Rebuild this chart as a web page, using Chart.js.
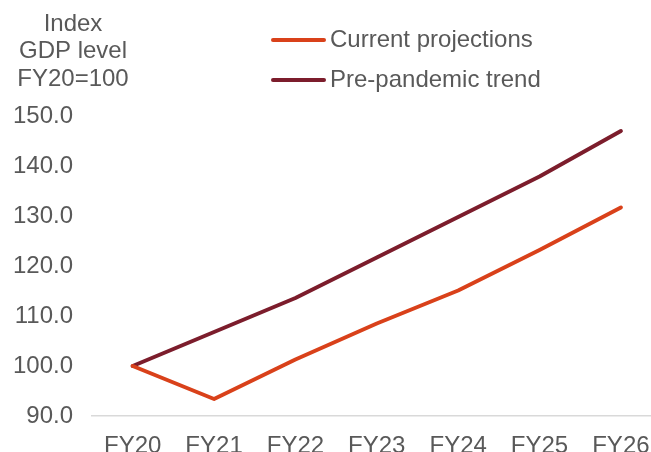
<!DOCTYPE html>
<html>
<head>
<meta charset="utf-8">
<script src="https://cdn.jsdelivr.net/npm/chart.js@4/dist/chart.umd.min.js"></script>
<style>
	html, body { margin: 0; padding: 0; background: #fff; }
	#wrap { width: 651px; height: 452px; position: relative; }
</style>
</head>
<body>
<div id="wrap"><canvas id="chart-0"></canvas></div>
<script>
'use strict';

var YEARS = ['FY20', 'FY21', 'FY22', 'FY23', 'FY24', 'FY25', 'FY26'];
var CURRENT = [100, 93.4, 101.3, 108.5, 115.1, 123.2, 131.7];
var PRE_TREND = [100, 106.8, 113.6, 121.7, 129.8, 137.9, 147.0];
var Y_TICKS = [90, 100, 110, 120, 130, 140, 150];
var TITLE_LINES = ['Index', 'GDP level', 'FY20=100'];

var FONT = '"Liberation Sans", Arial, sans-serif';
var TEXT = '#595959';
var SIZE = 24;

function points(values) {
	return values.map(function(v, i) {
		return {x: i, y: v};
	});
}

// title block and line legend, drawn on the canvas
var annotate = {
	id: 'annotate',
	afterDraw: function(chart) {
		var ctx = chart.ctx;
		ctx.save();
		ctx.font = SIZE + 'px ' + FONT;
		ctx.fillStyle = TEXT;
		ctx.textAlign = 'center';
		ctx.textBaseline = 'middle';
		TITLE_LINES.forEach(function(t, i) {
			ctx.fillText(t, 73, 24 + i * 27.5);
		});

		chart.data.datasets.forEach(function(ds, i) {
			var y = 40 + i * 40;
			ctx.strokeStyle = ds.borderColor;
			ctx.lineWidth = 4;
			ctx.lineCap = 'round';
			ctx.beginPath();
			ctx.moveTo(273, y);
			ctx.lineTo(324, y);
			ctx.stroke();
			ctx.textAlign = 'left';
			ctx.fillStyle = TEXT;
			ctx.fillText(ds.label, 330, y);
		});
		ctx.restore();
	}
};

window.addEventListener('load', function() {
	new Chart('chart-0', {
		type: 'line',
		data: {
			datasets: [{
				label: 'Current projections',
				data: points(CURRENT),
				borderColor: '#d9411a',
				borderWidth: 4,
				borderCapStyle: 'round',
				borderJoinStyle: 'round',
				pointRadius: 0,
				tension: 0
			}, {
				label: 'Pre-pandemic trend',
				data: points(PRE_TREND),
				borderColor: '#7c1d2c',
				borderWidth: 4,
				borderCapStyle: 'round',
				borderJoinStyle: 'round',
				pointRadius: 0,
				tension: 0
			}]
		},
		options: {
			responsive: true,
			maintainAspectRatio: false,
			animation: false,
			layout: {
				padding: {top: 116, right: 0, bottom: 0, left: 0}
			},
			plugins: {
				legend: {display: false},
				tooltip: {enabled: false}
			},
			scales: {
				x: {
					type: 'linear',
					min: -0.5,
					max: 6.37,
					afterBuildTicks: function(scale) {
						scale.ticks = YEARS.map(function(l, i) {
							return {value: i};
						});
					},
					afterFit: function(scale) {
						scale.height = 36;
						// let the axis run to the right edge
						scale.paddingLeft = 0;
						scale.paddingRight = 0;
					},
					grid: {display: false, drawTicks: false},
					border: {display: true, color: '#d9d9d9', width: 1.5},
					ticks: {
						padding: 16,
						color: TEXT,
						font: {family: FONT, size: SIZE},
						maxRotation: 0,
						autoSkip: false,
						callback: function(value) {
							return YEARS[value];
						}
					}
				},
				y: {
					min: 90,
					max: 150,
					afterBuildTicks: function(scale) {
						scale.ticks = Y_TICKS.map(function(v) {
							return {value: v};
						});
					},
					afterFit: function(scale) {
						scale.width = 92;
						scale.paddingTop = 0;
						scale.paddingBottom = 0;
					},
					grid: {display: false, drawTicks: false},
					border: {display: false},
					ticks: {
						padding: 19,
						color: TEXT,
						font: {family: FONT, size: SIZE},
						callback: function(value) {
							return value.toFixed(1);
						}
					}
				}
			}
		},
		plugins: [annotate]
	});
});
</script>
</body>
</html>
